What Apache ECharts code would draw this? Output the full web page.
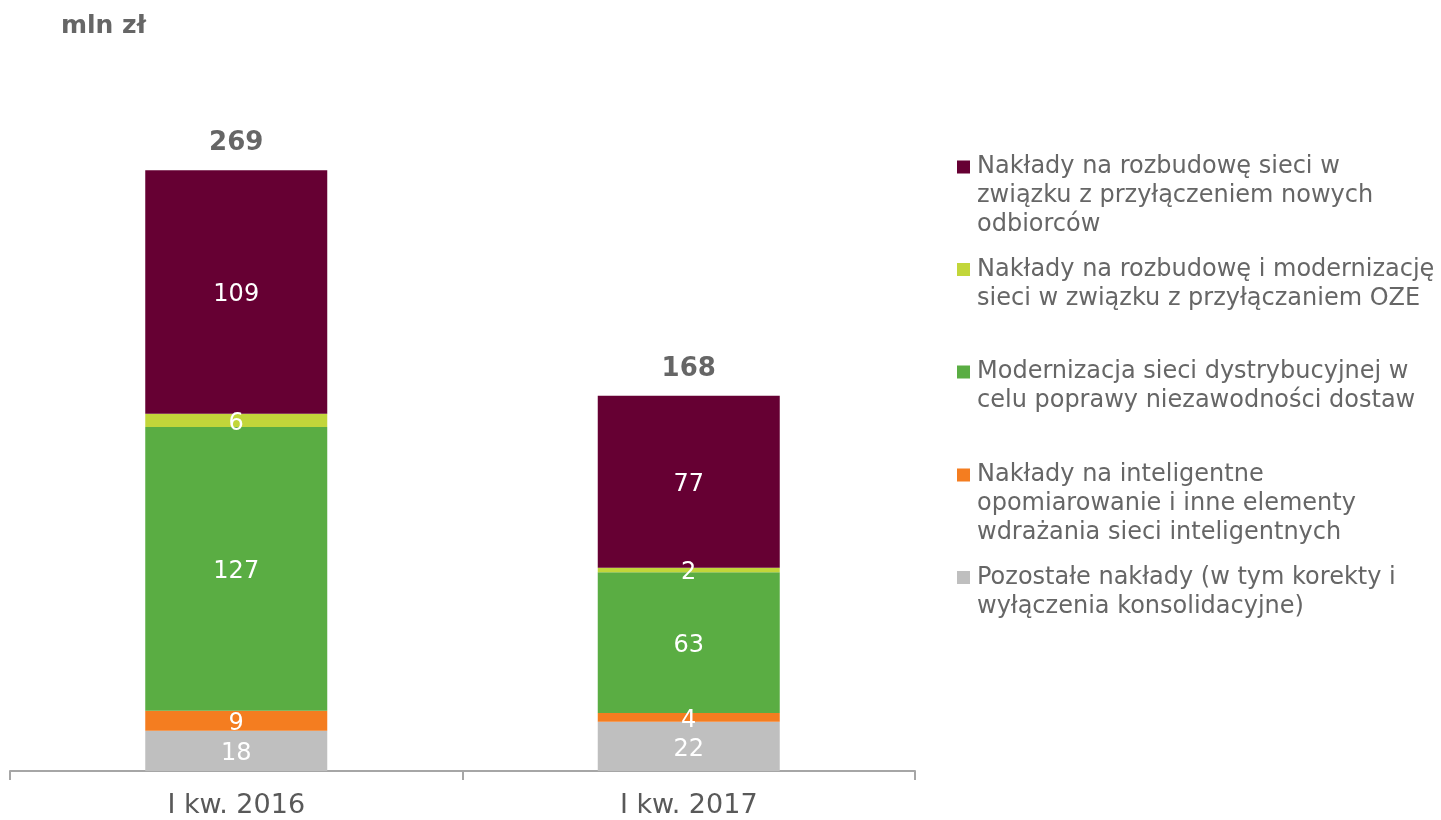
<!DOCTYPE html>
<html>
<head>
<meta charset="utf-8">
<script src="https://cdn.jsdelivr.net/npm/echarts@6/dist/echarts.min.js"></script>
<style>
  html, body { margin: 0; padding: 0; background: #fff; }
  #chart { width: 1441px; height: 820px; }
</style>
</head>
<body>
<div id="chart"></div>
<script>
// Capital expenditure by category, mln zł
const categories = ['I kw. 2016', 'I kw. 2017'];
const seriesNames = [
  'Pozostałe nakłady (w tym korekty i wyłączenia konsolidacyjne)',
  'Nakłady na inteligentne opomiarowanie i inne elementy wdrażania sieci inteligentnych',
  'Modernizacja sieci dystrybucyjnej w celu poprawy niezawodności dostaw',
  'Nakłady na rozbudowę i modernizację sieci w związku z przyłączaniem OZE',
  'Nakłady na rozbudowę sieci w związku z przyłączeniem nowych odbiorców'
];
const pozostale = [18, 22];
const inteligentne = [9, 4];
const modernizacja = [127, 63];
const oze = [6, 2];
const nowiOdbiorcy = [109, 77];

// Legend wording as it is broken into lines
const legendLines = {};
legendLines[seriesNames[4]] = ['Nakłady na rozbudowę sieci w', 'związku z przyłączeniem nowych', 'odbiorców'];
legendLines[seriesNames[3]] = ['Nakłady na rozbudowę i modernizację', 'sieci w związku z przyłączaniem OZE'];
legendLines[seriesNames[2]] = ['Modernizacja sieci dystrybucyjnej w', 'celu poprawy niezawodności dostaw'];
legendLines[seriesNames[1]] = ['Nakłady na inteligentne', 'opomiarowanie i inne elementy', 'wdrażania sieci inteligentnych'];
legendLines[seriesNames[0]] = ['Pozostałe nakłady (w tym korekty i', 'wyłączenia konsolidacyjne)'];

const colors = ['#bfbfbf', '#f47d20', '#5aad43', '#c2d63a', '#660033'];
const values = [pozostale, inteligentne, modernizacja, oze, nowiOdbiorcy];
const totals = categories.map((_, i) => values.reduce((s, arr) => s + arr[i], 0));

const FONT = '"DejaVu Sans", Verdana, sans-serif';
const LINE = 29;
const SQ = 13;
const MARK_W = 15;

const series = seriesNames.map((name, k) => ({
  name: name,
  type: 'bar',
  stack: 'capex',
  barWidth: 182,
  itemStyle: { color: colors[k] },
  label: {
    show: true,
    position: 'inside',
    offset: [0, 3],
    color: '#ffffff',
    fontFamily: FONT,
    fontSize: 24
  },
  emphasis: { disabled: true },
  data: values[k]
}));

// Totals shown above each stack
series.push({
  name: 'suma',
  type: 'bar',
  stack: 'capex',
  barWidth: 182,
  itemStyle: { color: 'transparent' },
  label: {
    show: true,
    position: 'top',
    distance: 14,
    color: '#666666',
    fontFamily: FONT,
    fontSize: 26,
    fontWeight: 'bold',
    formatter: p => String(totals[p.dataIndex])
  },
  emphasis: { disabled: true },
  data: categories.map(() => 0)
});

// Legend marker: a square beside the first text line, inside a box as tall as the text block
function markerPath(lines) {
  const h = lines * LINE;
  const a = LINE / 2 - SQ / 2;
  const b = a + SQ;
  return 'path://M0,0L0,0Z' +
    'M0,' + a + 'L' + SQ + ',' + a + 'L' + SQ + ',' + b + 'L0,' + b + 'Z' +
    'M' + MARK_W + ',' + h + 'L' + MARK_W + ',' + h + 'Z';
}

// One legend block per series, top to bottom
const legendFirstLine = [167, 269.5, 372, 475, 577.5];
const legendOrder = [4, 3, 2, 1, 0];
const legends = legendOrder.map((k, i) => {
  const name = seriesNames[k];
  const n = legendLines[name].length;
  return {
    show: true,
    left: 957,
    top: legendFirstLine[i] - LINE / 2,
    padding: 0,
    itemWidth: MARK_W,
    itemHeight: n * LINE,
    itemGap: 0,
    selectedMode: false,
    icon: markerPath(n),
    data: [name],
    formatter: nm => legendLines[nm].join('\n'),
    textStyle: {
      color: '#666666',
      fontFamily: FONT,
      fontSize: 24,
      lineHeight: LINE
    }
  };
});

const chart = echarts.init(document.getElementById('chart'), null, { renderer: 'canvas' });
chart.setOption({
  animation: false,
  backgroundColor: '#ffffff',
  title: {
    text: 'mln zł',
    left: 61,
    top: 14,
    padding: 0,
    textStyle: { color: '#666666', fontFamily: FONT, fontSize: 25, fontWeight: 'bold' }
  },
  legend: legends,
  grid: { left: 10, right: 526, top: 101, bottom: 49, containLabel: false },
  xAxis: {
    type: 'category',
    data: categories,
    axisLine: { lineStyle: { color: '#a6a6a6', width: 2 } },
    axisTick: { show: true, length: 9, lineStyle: { color: '#a6a6a6', width: 2 } },
    axisLabel: { color: '#595959', fontFamily: FONT, fontSize: 27, margin: 21 }
  },
  yAxis: {
    type: 'value',
    min: 0,
    max: 300,
    show: false,
    splitLine: { show: false }
  },
  series: series
});
</script>
</body>
</html>
